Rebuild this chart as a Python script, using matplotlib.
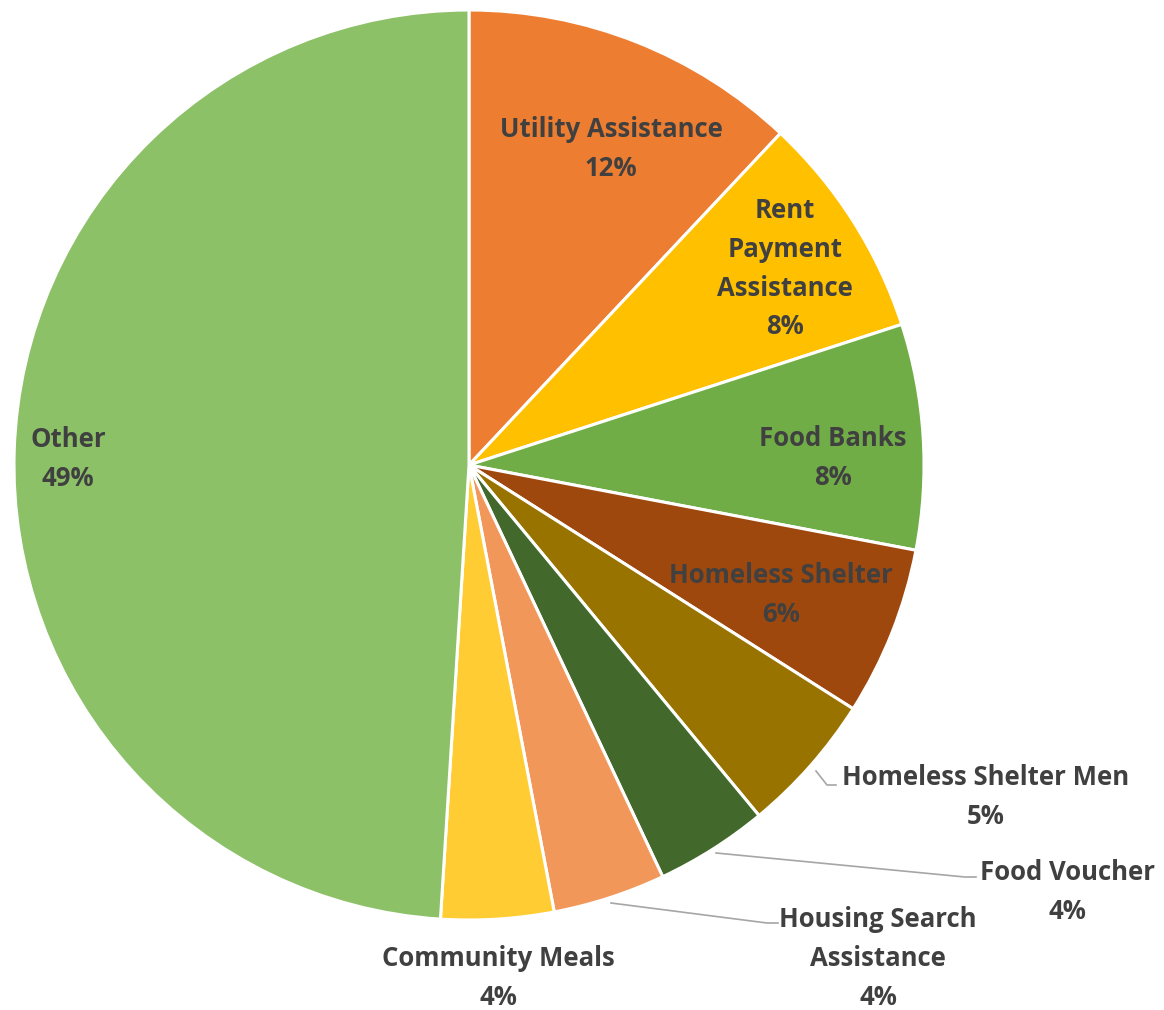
import matplotlib.pyplot as plt

labels = ["Utility Assistance", "Rent\nPayment\nAssistance", "Food Banks", "Homeless Shelter",
          "Homeless Shelter Men", "Food Voucher", "Housing Search\nAssistance",
          "Community Meals", "Other"]
shares = [12, 8, 8, 6, 5, 4, 4, 4, 49]
colors = ["#ED7D31", "#FFC000", "#70AD47", "#9E480E", "#997300", "#43682B",
          "#F1975A", "#FFCD33", "#8CC168"]

# label centres (pixel coords from top-left) for the first line of text
label_pos = [(611, 128), (785, 209), (833, 437), (781, 574), (986, 776),
             (1067, 871), (878, 918), (498, 957), (68, 438)]
# leader lines for the outside labels: index -> list of points
leaders = {
    4: [(816, 771), (827, 785), (836, 785)],
    5: [(716, 853), (965, 877), (976, 877)],
    6: [(611, 903), (767, 923), (778, 923)],
}

W, H = 1164, 1010
fig = plt.figure(figsize=(W / 100, H / 100), dpi=100)
ax = fig.add_axes([0, 0, 1, 1])

ax.pie(shares, colors=colors, startangle=90, counterclock=False,
       center=(469, H - 465), radius=455,
       wedgeprops=dict(edgecolor="white", linewidth=2.2))
ax.set_xlim(0, W)
ax.set_ylim(0, H)
ax.axis("off")

txt_color = "#404040"
for i, (lab, val) in enumerate(zip(labels, shares)):
    x, y = label_pos[i]
    s = lab + "\n" + str(val) + "%"
    ax.text(x, H - y + 12, s, ha="center", va="top", fontsize=18.5, fontweight="bold",
            family="Open Sans", color=txt_color, linespacing=1.56)

for i, pts in leaders.items():
    xs = [p[0] for p in pts]
    ys = [H - p[1] for p in pts]
    ax.plot(xs, ys, color="#A6A6A6", linewidth=1.2)

fig.savefig("out.png", dpi=100)
